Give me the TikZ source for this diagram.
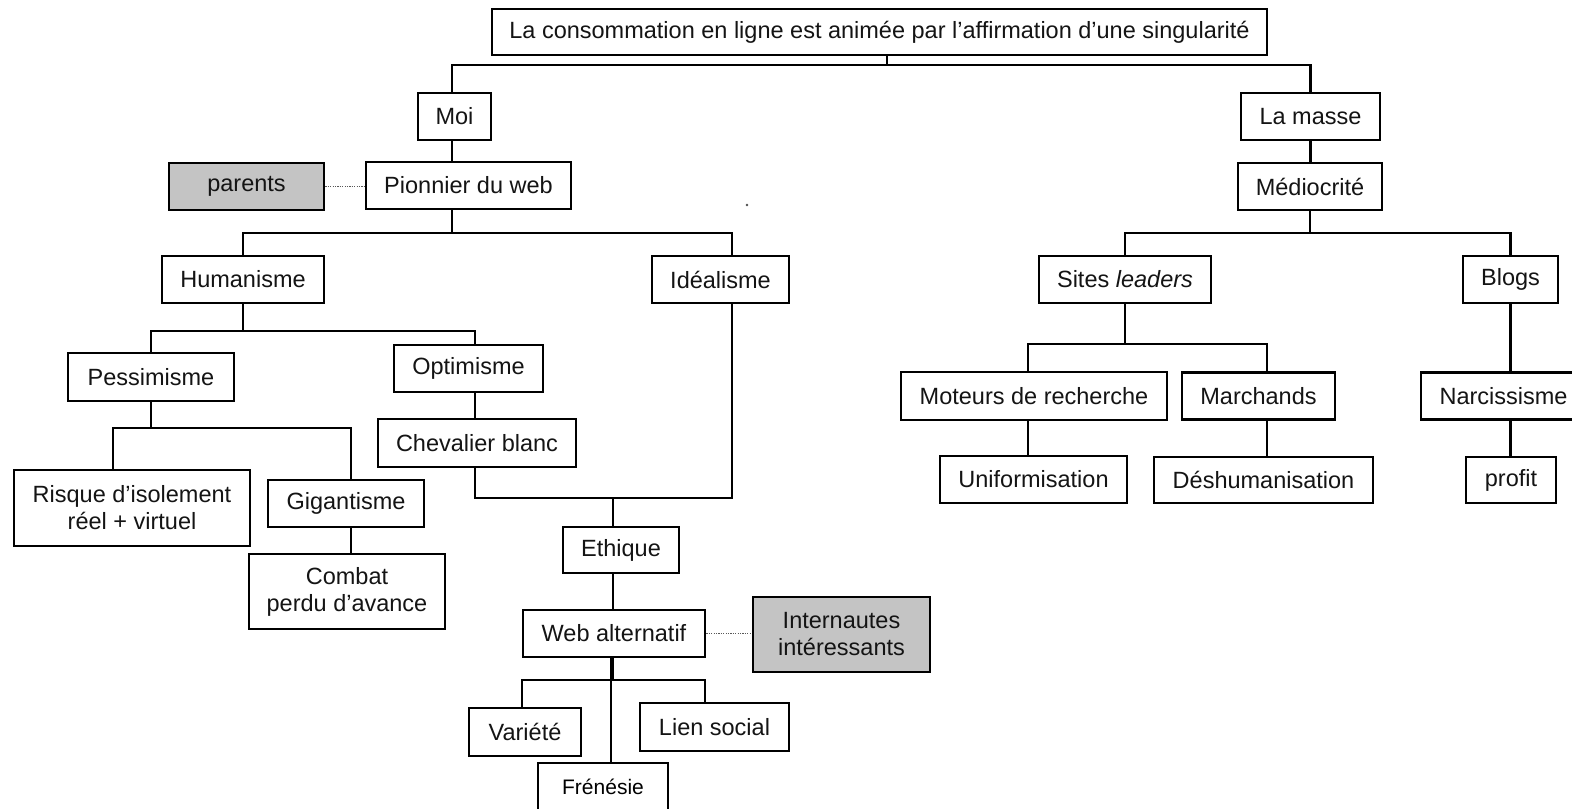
\documentclass[tikz,border=0pt]{standalone}
\usepackage{fontspec}
\setmainfont{Liberation Sans}
\definecolor{boxgrey}{RGB}{196,196,196}
\begin{document}
\begin{tikzpicture}[x=0.5pt,y=-0.5pt,
  bx/.style={draw=black, line width=1.3pt, fill=white, inner sep=0pt, align=center,
    font=\fontsize{11.75pt}{13.5pt}\selectfont, text=black!92, minimum height=23.5pt},
  gbx/.style={bx, fill=boxgrey},
  fbx/.style={draw=black, line width=0.9pt, fill=white, inner sep=0pt,
    font=\fontsize{10.5pt}{12.5pt}\selectfont, text=black},
  link/.style={draw=black, line width=1.3pt, line join=miter},
  thinlink/.style={draw=black, line width=0.9pt},
  dots/.style={draw=black!65, line width=0.7pt, dash pattern=on 0.6pt off 0.6pt}]
\useasboundingbox (0,0) rectangle (1572,808);
\clip (0,0) rectangle (1572,808);
% junction coordinates
\coordinate (b0) at (0,65);
\coordinate (b1) at (0,233);
\coordinate (b2) at (0,331);
\coordinate (b3) at (0,428);
\coordinate (b4) at (0,498);
\coordinate (b5) at (0,680);
\coordinate (b7) at (0,344);
\coordinate (tx) at (887,0);
\coordinate (px) at (452,0);
\coordinate (ix) at (732,0);
\coordinate (ox) at (475,0);
\coordinate (rx) at (113,0);
\coordinate (gx) at (351,0);
\coordinate (ex) at (613,0);
\coordinate (vx) at (522,0);
\coordinate (lx) at (705,0);
\coordinate (fx) at (611,0);
\coordinate (mx) at (1028,0);
\coordinate (kx) at (1267,0);
% nodes
\node[bx, minimum width=387.5pt, minimum height=23pt] (top) at (879.5,32) {La consommation en ligne est animée par l’affirmation d’une singularité};
\node[bx, minimum width=36.5pt] (moi) at (454.5,116.5) {Moi};
\node[bx, minimum width=102.5pt] (pion) at (468.5,185.5) {Pionnier du web};
\node[gbx, minimum width=77.5pt] (parents) at (246.5,186.5) {parents};
\node[bx, minimum width=81pt] (hum) at (243,279.5) {Humanisme};
\node[bx, minimum width=68.5pt] (ideal) at (720.5,279.5) {Idéalisme};
\node[bx, minimum width=83pt, minimum height=24pt] (pess) at (151,377) {Pessimisme};
\node[bx, minimum width=74.5pt] (opt) at (468.5,368.5) {Optimisme};
\node[bx, minimum width=99pt, minimum height=24pt] (chev) at (477,443) {Chevalier blanc};
\node[bx, minimum width=118pt, minimum height=38pt] (risque) at (132,508) {Risque d’isolement\\réel + virtuel};
\node[bx, minimum width=78pt] (gig) at (346,503.5) {Gigantisme};
\node[bx, minimum width=98pt, minimum height=37.5pt] (combat) at (347,591.5) {Combat\\perdu d’avance};
\node[bx, minimum width=58pt, minimum height=23pt] (ethique) at (621,550) {Ethique};
\node[bx, minimum width=91pt] (web) at (614,633.5) {Web alternatif};
\node[gbx, minimum width=88.5pt, minimum height=37.5pt] (intern) at (841.5,634.5) {Internautes\\intéressants};
\node[bx, minimum width=56pt, minimum height=24pt] (variete) at (525,732) {Variété};
\node[bx, minimum width=74.5pt, minimum height=24pt] (lien) at (714.5,727) {Lien social};
\node[fbx, minimum width=65pt, minimum height=24pt] (fren) at (603,787) {Frénésie};
\node[bx, minimum width=69.5pt] (lamasse) at (1310.5,116.5) {La masse};
\node[bx, minimum width=72pt] (medio) at (1310,186.5) {Médiocrité};
\node[bx, minimum width=86pt] (sites) at (1125,279.5) {Sites \textit{leaders}};
\node[bx, minimum width=47.5pt] (blogs) at (1510.5,279.5) {Blogs};
\node[bx, minimum width=133pt, minimum height=24pt] (moteurs) at (1034,396) {Moteurs de recherche};
\node[bx, minimum width=76.5pt] (marchands) at (1258.5,396) {Marchands};
\node[bx, minimum width=82.5pt] (narc) at (1503.5,396) {Narcissisme};
\node[bx, minimum width=93.5pt] (unif) at (1033.5,479.5) {Uniformisation};
\node[bx, minimum width=109.5pt, minimum height=23pt] (desh) at (1263.5,480) {Déshumanisation};
\node[bx, minimum width=45pt, minimum height=23pt] (profit) at (1511,480) {profit};
% connectors, left branch
\draw[link] (top.south -| tx) -- (tx |- b0);
\draw[link] (moi.north -| px) -- (px |- b0) -- (lamasse.north |- b0) -- (lamasse.north);
\draw[link] (moi.south -| px) -- (pion.north -| px);
\draw[link] (pion.south -| px) -- (px |- b1);
\draw[link] (hum.north) -- (hum.north |- b1) -- (ix |- b1) -- (ideal.north -| ix);
\draw[link] (hum.south) -- (hum.south |- b2);
\draw[link] (pess.north) -- (pess.north |- b2) -- (ox |- b2) -- (opt.north -| ox);
\draw[link] (opt.south -| ox) -- (chev.north -| ox);
\draw[link] (pess.south) -- (pess.south |- b3);
\draw[link] (risque.north -| rx) -- (rx |- b3) -- (gx |- b3) -- (gig.north -| gx);
\draw[link] (gig.south -| gx) -- (combat.north -| gx);
\draw[link] (chev.south -| ox) -- (ox |- b4) -- (ix |- b4) -- (ideal.south -| ix);
\draw[link] (ex |- b4) -- (ethique.north -| ex);
\draw[link] (ethique.south -| ex) -- (web.north -| ex);
\draw[link] (web.south -| ex) -- (ex |- b5);
\draw[link] (variete.north -| vx) -- (vx |- b5) -- (lx |- b5) -- (lien.north -| lx);
\draw[thinlink] (web.south -| fx) -- (fren.north -| fx);
\draw[dots] (parents.east) -- (parents.east -| pion.west);
\draw[dots] (web.east) -- (web.east -| intern.west);
% connectors, right branch
\draw[link] (lamasse.south) -- (medio.north -| lamasse.south);
\draw[link] (medio.south) -- (medio.south |- b1);
\draw[link] (sites.north) -- (sites.north |- b1) -- (blogs.north |- b1) -- (blogs.north);
\draw[link] (sites.south) -- (sites.south |- b7);
\draw[link] (moteurs.north -| mx) -- (mx |- b7) -- (kx |- b7) -- (marchands.north -| kx);
\draw[link] (moteurs.south -| mx) -- (unif.north -| mx);
\draw[link] (marchands.south -| kx) -- (desh.north -| kx);
\draw[link] (blogs.south) -- (narc.north -| blogs.south);
\draw[link] (narc.south -| blogs.south) -- (profit.north -| blogs.south);
% stray dot
\fill[black!70] (747,205) circle (1.4);
\end{tikzpicture}
\end{document}
